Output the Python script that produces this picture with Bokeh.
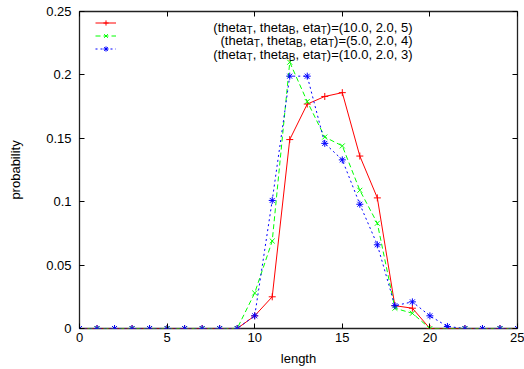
from bokeh.plotting import figure
from bokeh.models import Range1d, FixedTicker, LinearAxis, Label, Legend, LegendItem, CustomJSTickFormatter
from bokeh.embed import file_html
from bokeh.resources import INLINE

# ---- data ----
lengths = [0, 1, 2, 3, 4, 5, 6, 7, 8, 9, 10, 11, 12, 13, 14, 15, 16, 17, 18, 19, 20, 21, 22, 23, 24, 25]
prob_t10_e5 = [0, 0, 0, 0, 0, 0, 0, 0, 0, 0, 0.010, 0.025, 0.149, 0.177, 0.183, 0.186, 0.136, 0.103, 0.018, 0.016, 0, 0, 0, 0, 0, 0]
prob_t5_e4 = [0, 0, 0, 0, 0, 0, 0, 0, 0, 0, 0.028, 0.069, 0.210, 0.179, 0.151, 0.144, 0.109, 0.083, 0.016, 0.012, 0, 0, 0, 0, 0, 0]
prob_t10_e3 = [0, 0, 0, 0, 0, 0, 0, 0, 0, 0, 0.010, 0.101, 0.199, 0.199, 0.146, 0.133, 0.098, 0.066, 0.018, 0.021, 0.010, 0.0016, 0, 0, 0, 0]
series_params = ["(10.0, 2.0, 5)", "(5.0, 2.0, 4)", "(10.0, 2.0, 3)"]
x_ticks = [0, 5, 10, 15, 20, 25]
y_ticks = [0, 0.05, 0.1, 0.15, 0.2, 0.25]
y_tick_labels = ["0", "0.05", "0.1", "0.15", "0.2", "0.25"]

FONT = "Liberation Sans"
FS = 13
SUB_FS = 10

p = figure(width=524, height=369, output_backend="svg", toolbar_location=None,
           x_range=Range1d(0, 25), y_range=Range1d(0, 0.25),
           min_border_left=79, min_border_right=7, min_border_top=11, min_border_bottom=41)
p.xgrid.visible = False
p.ygrid.visible = False
p.outline_line_color = "#222222"
p.outline_line_width = 1.3
p.background_fill_color = "white"
p.border_fill_color = "white"

def style_axis(ax, ticks, labels=True):
    ax.ticker = FixedTicker(ticks=ticks)
    ax.major_tick_in = 5
    ax.major_tick_out = 0
    ax.minor_tick_line_color = None
    ax.major_tick_line_color = "black"
    ax.axis_line_color = None
    ax.major_label_text_font = FONT
    ax.major_label_text_font_size = f"{FS}px"
    ax.major_label_text_color = "black"
    ax.axis_label_text_font = FONT
    ax.axis_label_text_font_size = f"{FS}px"
    ax.axis_label_text_font_style = "normal"
    ax.axis_label_text_color = "black"
    if not labels:
        ax.formatter = CustomJSTickFormatter(code="return ''")
        ax.major_label_standoff = 0

style_axis(p.xaxis[0], x_ticks)
p.xaxis[0].axis_label = "length"
p.xaxis[0].major_label_standoff = 4
p.xaxis[0].axis_label_standoff = 6

style_axis(p.yaxis[0], y_ticks)
p.yaxis[0].axis_label = "probability"
p.yaxis[0].major_label_standoff = 8
p.yaxis[0].axis_label_standoff = 20
p.yaxis[0].major_label_overrides = {t: l for t, l in zip(y_ticks, y_tick_labels)}

top = LinearAxis()
style_axis(top, x_ticks, labels=False)
p.add_layout(top, "above")
right = LinearAxis()
style_axis(right, y_ticks, labels=False)
p.add_layout(right, "right")

specs = [
    (prob_t10_e5, "#ff0000", "solid", "cross"),
    (prob_t5_e4, "#00ff00", "5 3", "x"),
    (prob_t10_e3, "#0000ff", "2 3", "asterisk"),
]
items = []
for ys, color, dash, marker in specs:
    ln = p.line(lengths, ys, line_color=color, line_dash=dash, line_width=1)
    sc = p.scatter(lengths, ys, marker=marker, size=7, line_color=color, fill_color=None, line_width=1)
    items.append(LegendItem(label=" ", renderers=[ln, sc]))

legend = Legend(items=items, location=(16, 273), glyph_width=21, glyph_height=13,
                label_width=0, label_height=13, label_standoff=0, padding=0, margin=0, spacing=0,
                border_line_color=None, background_fill_alpha=0, label_text_font_size="1px")
p.add_layout(legend)

# legend texts with subscripts, right aligned
W = {'(': 333, ')': 333, 't': 278, 'h': 556, 'e': 556, 'a': 556, 'T': 611, 'B': 667,
     ',': 278, ' ': 278, '=': 584, '.': 278}
for d in "0123456789":
    W[d] = 556

def tw(s, size):
    return sum(W.get(c, 556) for c in s) * size / 1000.0

right_edge = 333
baselines = [301.3, 287.9, 274.5]
for params, yb in zip(series_params, baselines):
    pieces = [("(theta", False), ("T", True), (", theta", False), ("B", True),
              (", eta", False), ("T", True), (")=" + params, False)]
    total = sum(tw(s, SUB_FS if sub else FS) for s, sub in pieces)
    x = right_edge - total
    for s, sub in pieces:
        size = SUB_FS if sub else FS
        p.add_layout(Label(x=x, y=yb - (3 if sub else 0), x_units="screen", y_units="screen",
                           text=s, text_font=FONT, text_font_size=f"{size}px",
                           text_color="black", text_baseline="alphabetic", text_align="left"))
        x += tw(s, size)

open("out.html", "w").write(file_html(p, INLINE))
